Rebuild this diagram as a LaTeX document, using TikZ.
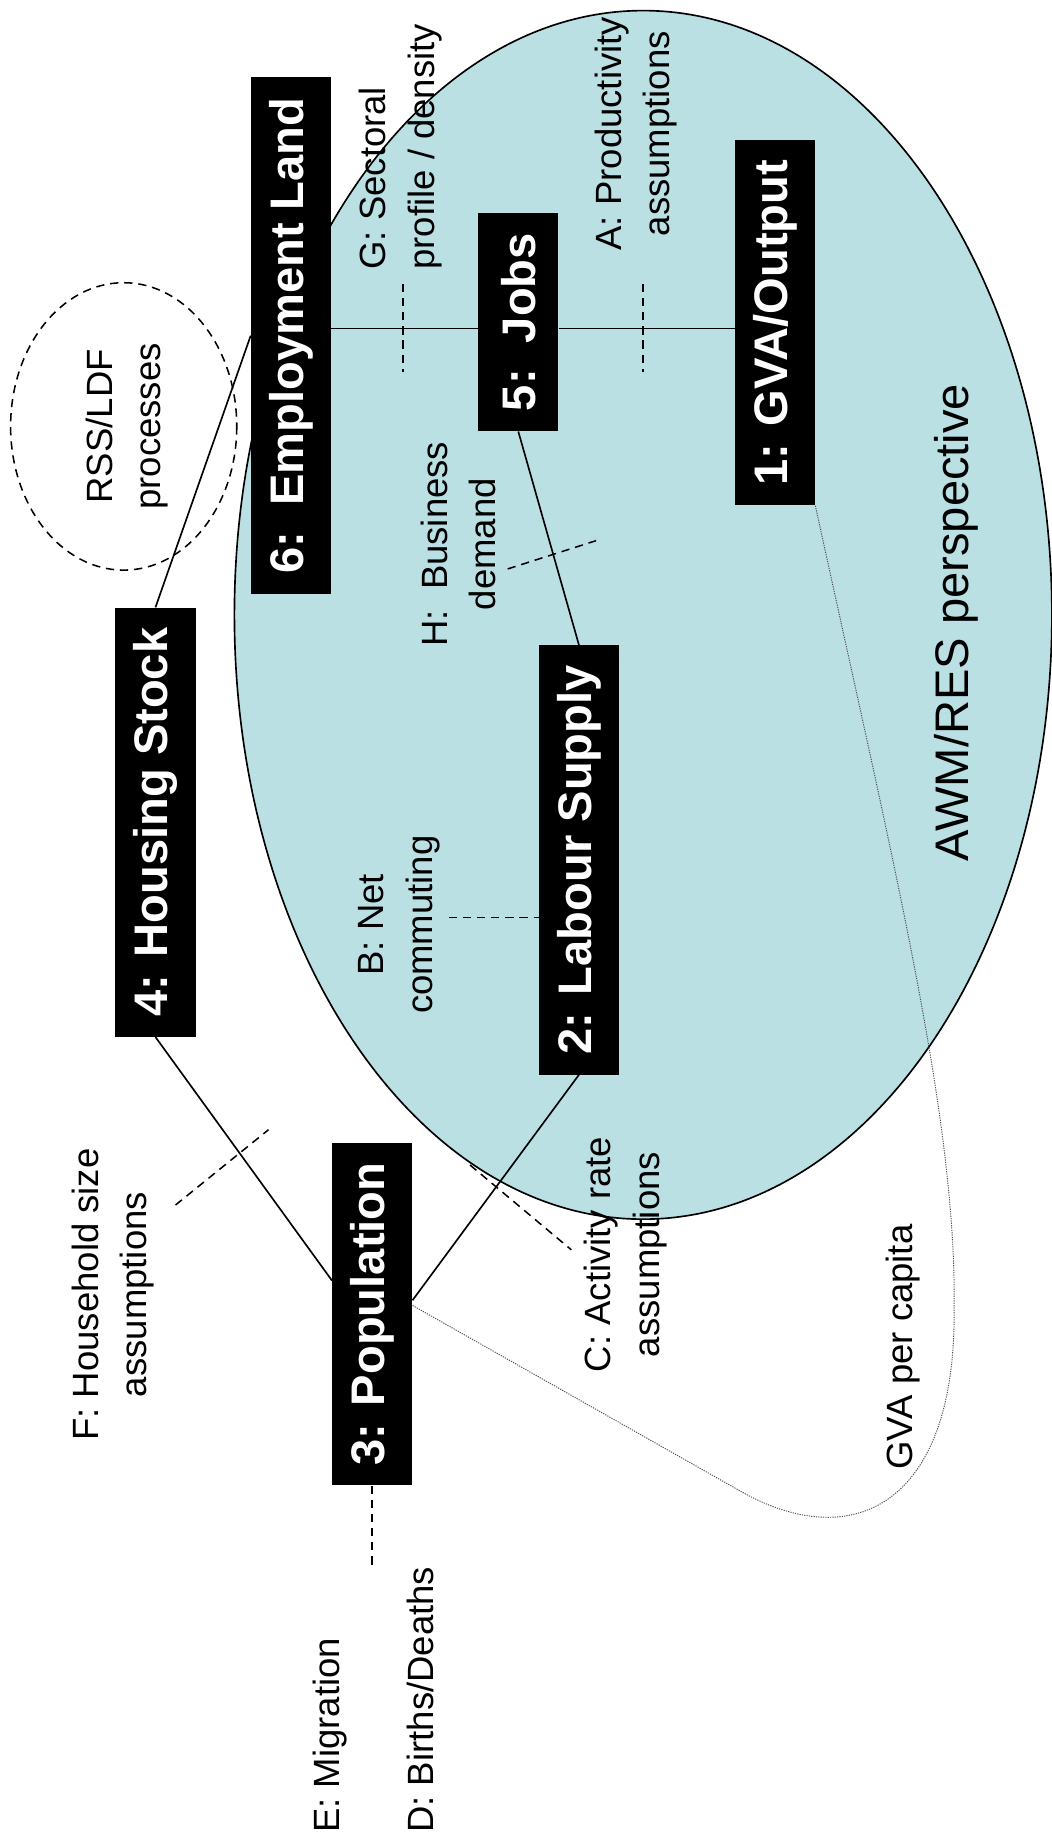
\documentclass[tikz,border=0pt]{standalone}
\usepackage{fontspec}
\setmainfont{Liberation Sans}
\usetikzlibrary{calc}
\definecolor{awmblue}{RGB}{186,224,228}

\begin{document}
\begin{tikzpicture}[x=1pt,y=-1pt,
  box/.style={rotate=90, fill=black, text=white, font=\fontsize{40}{46}\selectfont\bfseries, inner xsep=17pt, inner ysep=0pt, minimum height=68pt},
  note/.style={rotate=90, inner sep=0pt, align=center, font=\fontsize{31}{41}\selectfont},
  link/.style={line width=1.4pt},
  leader/.style={line width=1.3pt, dash pattern=on 7pt off 5pt}]
\useasboundingbox (0,0) rectangle (893,1568);
\filldraw[fill=awmblue, draw=black, line width=1.4pt] (546,522) ellipse [x radius=347, y radius=513];
\draw[leader] (105,362) ellipse [x radius=96, y radius=122];
\coordinate (axis) at (440,279);

\node[box] (emp) at (247,285) {6:\ \ Employment Land};
\node[box] (jobs) at (440,273.5) {5:\ \ Jobs};
\node[box] (gva) at (658,274) {1: GVA/Output};
\node[box] (housing) at (132,698) {4: Housing Stock};
\node[box] (labour) at (491.5,730) {2: Labour Supply};
\node[box] (pop) at (316,1115.5) {3: Population};

\draw[link] (emp.south |- axis) -- (jobs.north |- axis);
\draw[link] (jobs.south |- axis) -- (gva.north |- axis);
\draw[link] (jobs.west) -- (labour.east);
\draw[link] (emp.north) -- (housing.east);
\draw[link] (housing.west) -- ($(pop.north)!0.195!(pop.north east)$);
\draw[link] (labour.west) -- ($(pop.south)!0.08!(pop.south east)$);
\draw[line width=0.8pt, black!70, dash pattern=on 1pt off 1pt] (gva.south west) .. controls (760,740) and (812,950) .. (810,1110) .. controls (812,1280) and (722,1320) .. (627,1265) -- ($(pop.south)!0.05!(pop.south east)$);

\draw[leader] (342,241) -- (342,316);
\draw[leader] (546,241) -- (546,316);
\draw[leader] (431,483) -- (506,459);
\draw[leader] (381,779) -- (labour.north |- 0,779);
\draw[leader] (149,1023) -- (228,959);
\draw[leader] (399,989) -- (485,1061);
\draw[leader] (pop.west) -- ++(0,69);

\node[note] (rss) at (108,362) {RSS/LDF\\processes};
\node[note, anchor=west, align=left] (gnote) at (340,229) {G: Sectoral\\profile / density};
\node[note] (anote) at (540,113.5) {A: Productivity\\assumptions};
\node[note] (hnote) at (389,462) {H:\ \ Business\\demand};
\node[note] (bnote) at (339,785) {B: Net\\commuting};
\node[note] (cnote) at (531,1065) {C: Activity rate\\assumptions};
\node[note] (fnote) at (96,1099) {F: Household size\\assumptions};
\node[note] (capita) at (767,1143.5) {GVA per capita};
\node[note, anchor=west] (enote) at (280,1556) {E: Migration};
\node[note, anchor=west] (dnote) at (357,1556) {D: Births/Deaths};
\node[note, font=\fontsize{40}{46}\selectfont] (awm) at (812,528.5) {AWM/RES perspective};
\end{tikzpicture}
\end{document}
